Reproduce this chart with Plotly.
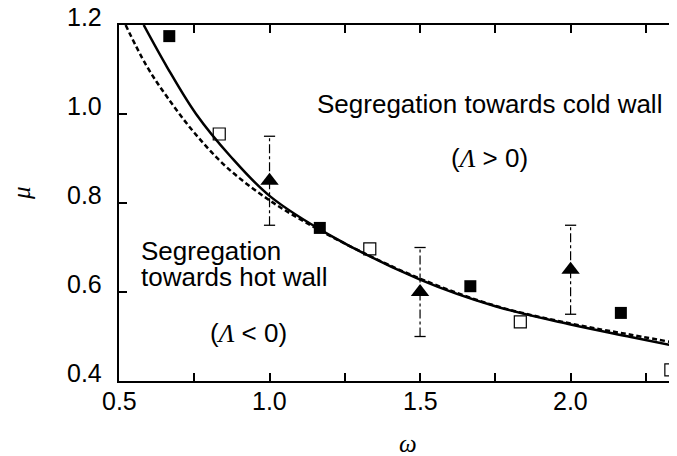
import plotly.graph_objects as go

# ---- data ----
# filled squares
w_filled = [0.667, 1.167, 1.667, 2.167]
mu_filled = [1.175, 0.744, 0.613, 0.553]
# open squares
w_open = [0.833, 1.333, 1.833, 2.333]
mu_open = [0.955, 0.697, 0.533, 0.425]
# triangles with error bars
w_tri = [1.0, 1.5, 2.0]
mu_tri = [0.85, 0.60, 0.65]
err_tri = [0.10, 0.10, 0.10]
# solid curve
w_solid = [0.582, 0.66, 0.756, 0.87, 1.0, 1.2, 1.5, 1.75, 2.0, 2.2, 2.38]
mu_solid = [1.2, 1.105, 1.0, 0.905, 0.816, 0.728, 0.628, 0.568, 0.527, 0.499, 0.474]
# dashed curve
w_dash = [0.522, 0.59, 0.66, 0.75, 0.86, 1.0, 1.15, 1.3, 1.5, 1.75, 2.0, 2.2, 2.38]
mu_dash = [1.2, 1.11, 1.038, 0.958, 0.879, 0.806, 0.745, 0.692, 0.630, 0.569, 0.529, 0.504, 0.482]

x_ticks = [0.5, 1.0, 1.5, 2.0]
x_ticklabels = ["0.5", "1.0", "1.5", "2.0"]
y_ticks = [0.4, 0.6, 0.8, 1.0, 1.2]
y_ticklabels = ["0.4", "0.6", "0.8", "1.0", "1.2"]

fig = go.Figure()

fig.add_trace(go.Scatter(x=w_dash, y=mu_dash, mode="lines", line_shape="spline",
                         line=dict(color="black", width=2.5, dash="5px,3px"),
                         showlegend=False, hoverinfo="skip"))
fig.add_trace(go.Scatter(x=w_solid, y=mu_solid, mode="lines", line_shape="spline",
                         line=dict(color="black", width=2.5),
                         showlegend=False, hoverinfo="skip"))

# error bars (dash-dot) built from the triangle data
ex, ey = [], []
cx, cy = [], []
for w, m, e in zip(w_tri, mu_tri, err_tri):
    ex += [w, w, None]
    ey += [m - e, m + e, None]
    cx += [w, w]
    cy += [m - e, m + e]
fig.add_trace(go.Scatter(x=ex, y=ey, mode="lines",
                         line=dict(color="black", width=1.2, dash="dashdot"),
                         showlegend=False, hoverinfo="skip"))
fig.add_trace(go.Scatter(x=cx, y=cy, mode="markers",
                         marker=dict(symbol="line-ew", size=8, line=dict(color="black", width=1.3)),
                         showlegend=False, hoverinfo="skip"))

fig.add_trace(go.Scatter(x=w_filled, y=mu_filled, mode="markers",
                         marker=dict(symbol="square", size=12, color="black",
                                     line=dict(color="black", width=0)),
                         showlegend=False))
fig.add_trace(go.Scatter(x=w_open, y=mu_open, mode="markers",
                         marker=dict(symbol="square-open", size=12, color="black",
                                     line=dict(color="black", width=1.2)),
                         showlegend=False))
fig.add_trace(go.Scatter(x=w_tri, y=mu_tri, mode="markers",
                         marker=dict(symbol="triangle-up", size=16, color="black",
                                     line=dict(color="black", width=0)),
                         showlegend=False))

sans = "Liberation Sans, Arial, sans-serif"
serif = "Liberation Serif, Times New Roman, serif"
txt = dict(family=sans, size=26, color="black")
tickfont = dict(family=sans, size=25, color="black")
lam = "<span style='font-family:Liberation Serif'><i>Λ</i></span>"

annos = [
    dict(x=1.73, y=1.0, text="Segregation towards cold wall", xanchor="center", yanchor="middle"),
    dict(x=1.73, y=0.879, text="(" + lam + " > 0)", xanchor="center", yanchor="middle"),
    dict(x=0.566, y=0.670, text="Segregation", xanchor="left", yanchor="middle"),
    dict(x=0.566, y=0.612, text="towards hot wall", xanchor="left", yanchor="middle"),
    dict(x=0.929, y=0.486, text="(" + lam + " < 0)", xanchor="center", yanchor="middle"),
]
for a in annos:
    a.update(xref="x", yref="y", showarrow=False, font=txt, yshift=10)

# tick labels drawn from the tick lists
for v, t in zip(x_ticks, x_ticklabels):
    annos.append(dict(xref="x", yref="paper", x=v, y=0, yshift=-20, text=t, showarrow=False,
                      xanchor="center", yanchor="middle", font=tickfont))
for v, t in zip(y_ticks, y_ticklabels):
    annos.append(dict(xref="paper", yref="y", x=0, y=v, xshift=-15, yshift=8, text=t,
                      showarrow=False, xanchor="right", yanchor="middle", font=tickfont))

annos.append(dict(xref="paper", yref="paper", x=0, y=0.528, xshift=-98, text="<i>μ</i>",
                  textangle=-90, showarrow=False, xanchor="center", yanchor="middle",
                  font=dict(family=serif, size=25, color="black")))
annos.append(dict(xref="paper", yref="paper", x=0.51, y=0, yshift=-62, text="<i>ω</i>",
                  showarrow=False, xanchor="center", yanchor="middle",
                  font=dict(family=serif, size=25, color="black")))

fig.update_layout(
    width=677, height=456,
    margin=dict(l=111, r=0, t=17, b=83),
    paper_bgcolor="white", plot_bgcolor="white",
    annotations=annos,
    xaxis=dict(range=[0.5, 2.38], tickvals=x_ticks, showticklabels=False,
               ticks="inside", ticklen=8, tickwidth=1.5, tickcolor="black",
               showline=True, linewidth=2, linecolor="black", mirror="ticks",
               showgrid=False, zeroline=False,
               minor=dict(dtick=0.25, tick0=0.5, ticks="inside", ticklen=8, tickwidth=1.5,
                          tickcolor="black", showgrid=False)),
    yaxis=dict(range=[0.4, 1.2], tickvals=y_ticks, showticklabels=False,
               ticks="inside", ticklen=8, tickwidth=1.5, tickcolor="black",
               showline=True, linewidth=2, linecolor="black", mirror=False,
               showgrid=False, zeroline=False),
)

fig.write_html("out.html")
